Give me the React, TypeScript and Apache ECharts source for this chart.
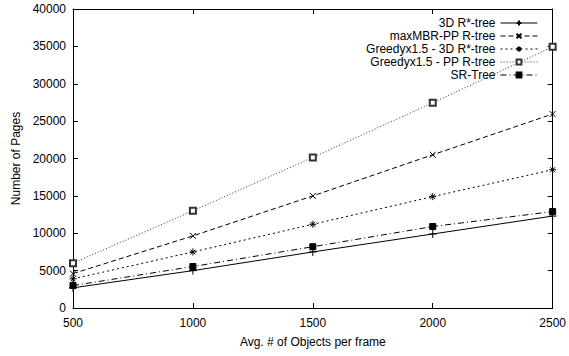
import React, { useEffect, useRef } from "react";
import * as echarts from "echarts";

const objectsPerFrame = [500, 1000, 1500, 2000, 2500];
const rStarTree3D = [2700, 5000, 7500, 9900, 12300];
const maxMbrPpRTree = [4600, 9650, 15000, 20500, 25950];
const greedy3DRStar = [3900, 7500, 11200, 14900, 18500];
const greedyPpRTree = [6000, 13000, 20150, 27450, 34950];
const srTree = [3000, 5550, 8200, 10900, 12900];

const seriesNames = [
  "3D R*-tree",
  "maxMBR-PP R-tree",
  "Greedyx1.5 - 3D R*-tree",
  "Greedyx1.5 - PP R-tree",
  "SR-Tree",
];

const FONT = "'Liberation Sans', Arial, Helvetica, sans-serif";

const PLUS = "path://M0,5L10,5M5,0L5,10";
const CROSS = "path://M0,0L10,10M10,0L0,10";
const STAR = "path://M0,5L10,5M5,0L5,10M1.5,1.5L8.5,8.5M8.5,1.5L1.5,8.5";

const pairs = (ys: number[]) => objectsPerFrame.map((x, i) => [x, ys[i]]);
const plain = (v: number) => String(v);

export default function App() {
  const ref = useRef<HTMLDivElement>(null);

  useEffect(() => {
    if (!ref.current) return;
    const chart = echarts.init(ref.current, undefined, { renderer: "svg" });

    const strokeSymbol = {
      color: "#000",
      borderColor: "#000",
      borderWidth: 1,
    };

    const mkSeries = (
      name: string,
      ys: number[],
      symbol: string,
      symbolSize: number,
      lineType: any,
      itemStyle: any,
      lineColor = "#000"
    ) => ({
      name,
      type: "line",
      data: pairs(ys),
      symbol,
      symbolSize,
      showSymbol: true,
      lineStyle: { color: lineColor, width: 1, type: lineType },
      itemStyle,
      emphasis: { disabled: true },
      z: 3,
    });

    const xBase = {
      type: "value",
      min: 500,
      max: 2500,
      interval: 500,
      axisLine: { show: true, onZero: false, lineStyle: { color: "#000", width: 1 } },
      axisTick: { show: true, inside: true, length: 5, lineStyle: { color: "#000" } },
      splitLine: { show: false },
    };
    const yBase = {
      type: "value",
      min: 0,
      max: 40000,
      interval: 5000,
      axisLine: { show: true, onZero: false, lineStyle: { color: "#000", width: 1 } },
      axisTick: { show: true, inside: true, length: 5, lineStyle: { color: "#000" } },
      splitLine: { show: false },
    };

    chart.setOption({
      animation: false,
      backgroundColor: "#fff",
      textStyle: { fontFamily: FONT },
      grid: { left: 73, right: 12, top: 9, bottom: 48, containLabel: false },
      legend: {
        orient: "vertical",
        right: 26,
        top: 12,
        align: "right",
        itemWidth: 37,
        itemHeight: 6,
        itemGap: 1,
        lineStyle: { width: 1 },
        textStyle: { fontFamily: FONT, fontSize: 12, color: "#000", lineHeight: 12, padding: 0 },
        data: seriesNames,
      },
      xAxis: [
        {
          ...xBase,
          position: "bottom",
          name: "Avg. # of Objects per frame",
          nameLocation: "middle",
          nameGap: 28,
          nameTextStyle: { fontFamily: FONT, fontSize: 12, color: "#000" },
          axisLabel: { fontFamily: FONT, fontSize: 12, color: "#000", margin: 9, formatter: plain },
        },
        {
          ...xBase,
          position: "top",
          axisLabel: { show: false },
        },
      ],
      yAxis: [
        {
          ...yBase,
          position: "left",
          name: "Number of Pages",
          nameLocation: "middle",
          nameGap: 50,
          nameTextStyle: { fontFamily: FONT, fontSize: 12, color: "#000" },
          axisLabel: { fontFamily: FONT, fontSize: 12, color: "#000", margin: 7, formatter: plain },
        },
        {
          ...yBase,
          position: "right",
          axisLabel: { show: false },
        },
      ],
      series: [
        mkSeries(seriesNames[0], rStarTree3D, PLUS, 8, "solid", strokeSymbol),
        mkSeries(seriesNames[1], maxMbrPpRTree, CROSS, 6, [5, 3], strokeSymbol),
        mkSeries(seriesNames[2], greedy3DRStar, STAR, 7, [2, 3], strokeSymbol),
        mkSeries(
          seriesNames[3],
          greedyPpRTree,
          "emptyRect",
          6,
          [1, 2],
          { color: "#333", borderColor: "#333", borderWidth: 1 },
          "#333"
        ),
        mkSeries(seriesNames[4], srTree, "rect", 6, [6, 3, 1, 3], {
          color: "#000",
          borderColor: "#000",
          borderWidth: 1,
        }),
      ],
    });

    return () => chart.dispose();
  }, []);

  return <div ref={ref} style={{ width: 569, height: 356, position: "absolute", left: 0, top: 0 }} />;
}
